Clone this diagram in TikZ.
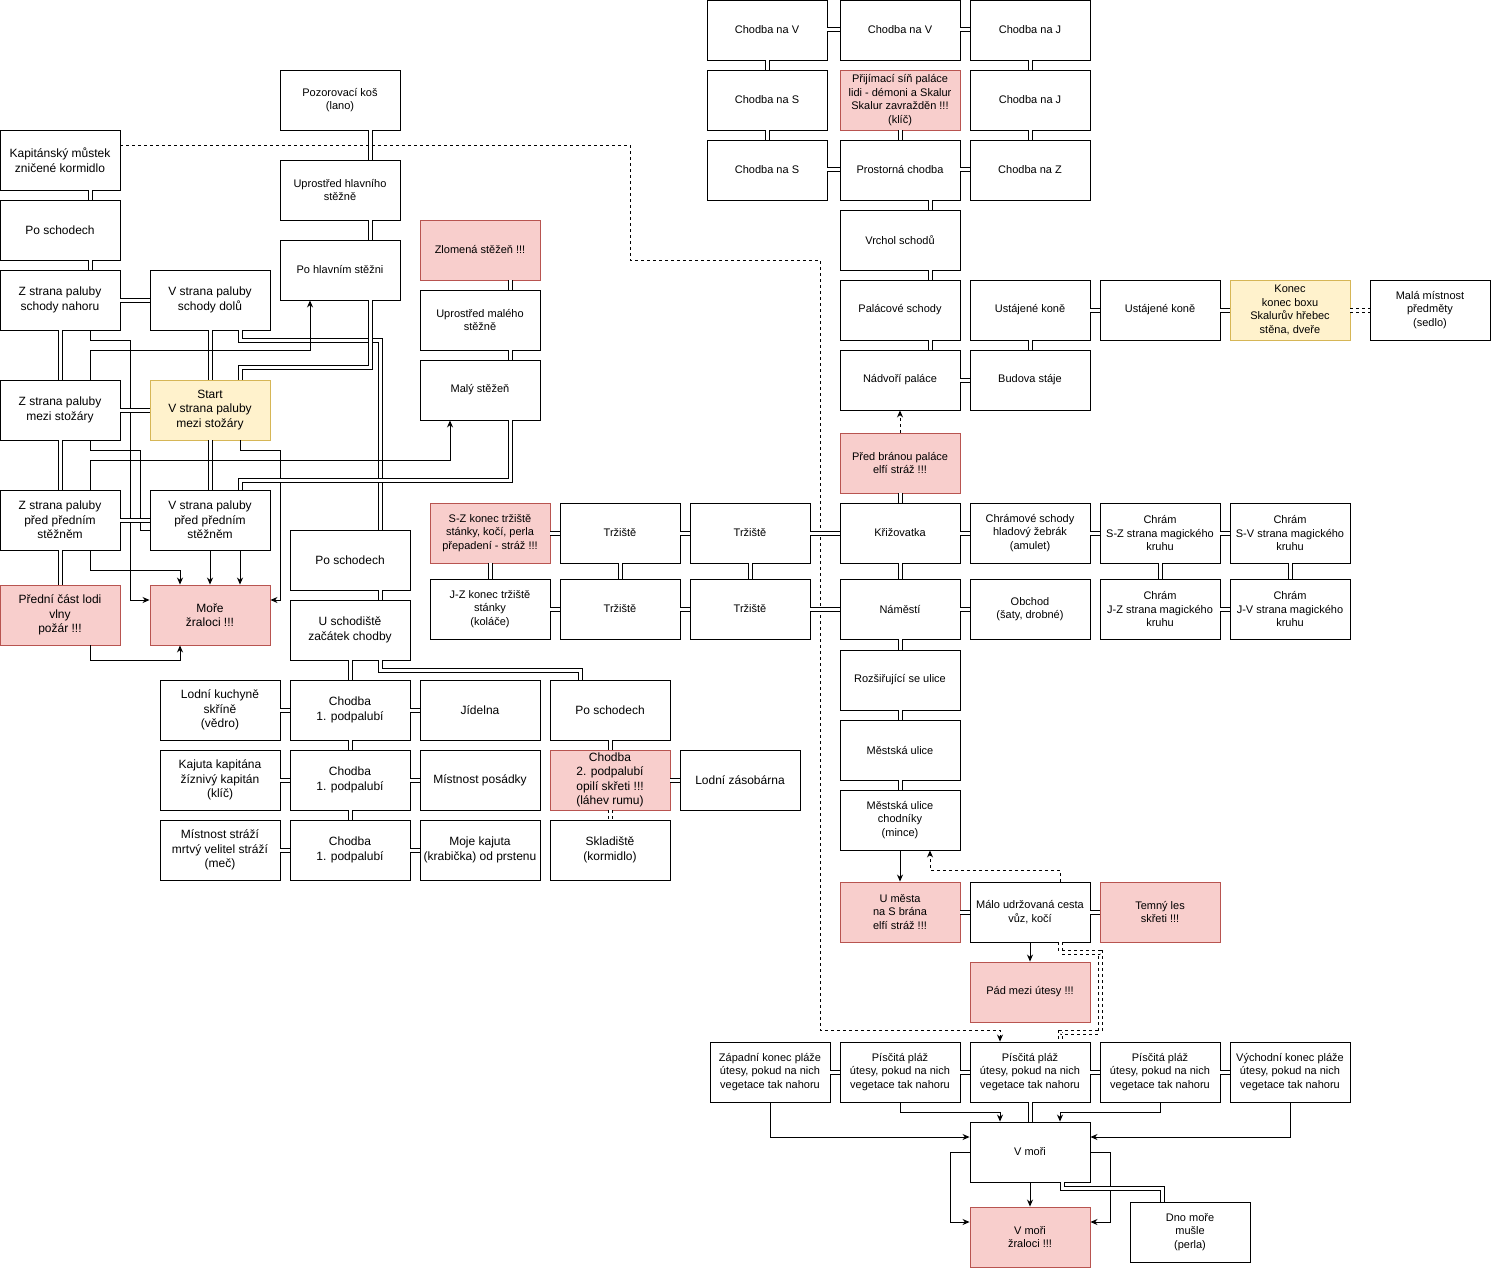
\documentclass[tikz,border=0pt]{standalone}
\usepackage{fontspec}
\setmainfont{Liberation Sans}
\usepackage{tikz}
\usetikzlibrary{arrows.meta}
\definecolor{redfill}{HTML}{F8CECC}
\definecolor{redline}{HTML}{B85450}
\definecolor{yellowfill}{HTML}{FFF2CC}
\definecolor{yellowline}{HTML}{D6B656}

\begin{document}
\begin{tikzpicture}[x=1pt,y=-1pt,
	>={Stealth[length=7pt,width=6pt]},
	room/.style={draw,line width=0.9pt,minimum width=120pt,minimum height=60pt,inner sep=1pt,align=center,font=\fontsize{11}{13.4}\selectfont},
	deckroom/.style={room,font=\fontsize{12}{14.5}\selectfont},
	danger/.style={fill=redfill,draw=redline},
	goal/.style={fill=yellowfill,draw=yellowline},
	link/.style={line width=1pt,double=white,double distance=3pt},
	dlink/.style={link,dash pattern=on 3pt off 3pt},
	arr/.style={->,line width=0.9pt},
	darr/.style={arr,dash pattern=on 3pt off 3pt}]
	\useasboundingbox (0,0) rectangle (1491,1268);
	% paluba
	\node[deckroom] (bridge) at (60,160) {Kapitánský můstek\\zničené kormidlo};
	\node[deckroom] (deckstairs) at (60,230) {Po schodech};
	\node[deckroom] (zup) at (60,300) {Z strana paluby\\schody nahoru};
	\node[deckroom] (vdown) at (210,300) {V strana paluby\\schody dolů};
	\node[deckroom] (zmid) at (60,410) {Z strana paluby\\mezi stožáry};
	\node[deckroom,goal] (start) at (210,410) {Start\\V strana paluby\\mezi stožáry};
	\node[deckroom] (zfore) at (60,520) {Z strana paluby\\před předním\\stěžněm};
	\node[deckroom] (vfore) at (210,520) {V strana paluby\\před předním\\stěžněm};
	\node[deckroom,danger] (bow) at (60,615) {Přední část lodi\\vlny\\požár !!!};
	\node[deckroom,danger] (sea) at (210,615) {Moře\\žraloci !!!};
	% stezne
	\node[room] (nest) at (340,100) {Pozorovací koš\\(lano)};
	\node[room] (mastmid) at (340,190) {Uprostřed hlavního\\stěžně};
	\node[room] (mast) at (340,270) {Po hlavním stěžni};
	\node[room,danger] (broken) at (480,250) {Zlomená stěžeň !!!};
	\node[room] (smastmid) at (480,320) {Uprostřed malého\\stěžně};
	\node[room] (smast) at (480,390) {Malý stěžeň};
	% podpalubi
	\node[deckroom] (hatch) at (350,560) {Po schodech};
	\node[deckroom] (hall) at (350,630) {U schodiště\\začátek chodby};
	\node[deckroom] (galley) at (220,710) {Lodní kuchyně\\skříně\\(vědro)};
	\node[deckroom] (corra) at (350,710) {Chodba\\1. podpalubí};
	\node[deckroom] (mess) at (480,710) {Jídelna};
	\node[deckroom] (lowstairs) at (610,710) {Po schodech};
	\node[deckroom] (captain) at (220,780) {Kajuta kapitána\\žíznivý kapitán\\(klíč)};
	\node[deckroom] (corrb) at (350,780) {Chodba\\1. podpalubí};
	\node[deckroom] (crew) at (480,780) {Místnost posádky};
	\node[deckroom,danger] (lowcorr) at (610,780) {Chodba\\2. podpalubí\\opilí skřeti !!!\\(láhev rumu)};
	\node[deckroom] (pantry) at (740,780) {Lodní zásobárna};
	\node[deckroom] (guards) at (220,850) {Místnost stráží\\mrtvý velitel stráží\\(meč)};
	\node[deckroom] (corrc) at (350,850) {Chodba\\1. podpalubí};
	\node[deckroom] (mycabin) at (480,850) {Moje kajuta\\(krabička) od prstenu};
	\node[deckroom] (hold) at (610,850) {Skladiště\\(kormidlo)};
	% trziste
	\node[room,danger] (mktnw) at (490,533) {S-Z konec tržiště\\stánky, kočí, perla\\přepadení - stráž !!!};
	\node[room] (mkta) at (620,533) {Tržiště};
	\node[room] (mktb) at (750,533) {Tržiště};
	\node[room] (mktsw) at (490,609) {J-Z konec tržiště\\stánky\\(koláče)};
	\node[room] (mktc) at (620,609) {Tržiště};
	\node[room] (mktd) at (750,609) {Tržiště};
	% palac
	\node[room] (eastA) at (767,30) {Chodba na V};
	\node[room] (eastB) at (900,30) {Chodba na V};
	\node[room] (southA) at (1030,30) {Chodba na J};
	\node[room] (northA) at (767,100) {Chodba na S};
	\node[room,danger] (throne) at (900,100) {Přijímací síň paláce\\lidi - démoni a Skalur\\Skalur zavražděn !!!\\(klíč)};
	\node[room] (southB) at (1030,100) {Chodba na J};
	\node[room] (northB) at (767,170) {Chodba na S};
	\node[room] (widecorr) at (900,170) {Prostorná chodba};
	\node[room] (westA) at (1030,170) {Chodba na Z};
	\node[room] (stairtop) at (900,240) {Vrchol schodů};
	\node[room] (pstairs) at (900,310) {Palácové schody};
	\node[room] (stallA) at (1030,310) {Ustájené koně};
	\node[room] (stallB) at (1160,310) {Ustájené koně};
	\node[room,goal] (stallend) at (1290,310) {Konec\\konec boxu\\Skalurův hřebec\\stěna, dveře};
	\node[room] (smallroom) at (1430,310) {Malá místnost\\předměty\\(sedlo)};
	\node[room] (court) at (900,380) {Nádvoří paláce};
	\node[room] (stable) at (1030,380) {Budova stáje};
	\node[room,danger] (gate) at (900,463) {Před bránou paláce\\elfí stráž !!!};
	% mesto
	\node[room] (cross) at (900,533) {Křižovatka};
	\node[room] (tsteps) at (1030,533) {Chrámové schody\\hladový žebrák\\(amulet)};
	\node[room] (tnw) at (1160,533) {Chrám\\S-Z strana magického\\kruhu};
	\node[room] (tne) at (1290,533) {Chrám\\S-V strana magického\\kruhu};
	\node[room] (square) at (900,609) {Náměstí};
	\node[room] (shop) at (1030,609) {Obchod\\(šaty, drobné)};
	\node[room] (tsw) at (1160,609) {Chrám\\J-Z strana magického\\kruhu};
	\node[room] (tse) at (1290,609) {Chrám\\J-V strana magického\\kruhu};
	\node[room] (widestreet) at (900,680) {Rozšiřující se ulice};
	\node[room] (street) at (900,750) {Městská ulice};
	\node[room] (walkway) at (900,820) {Městská ulice\\chodníky\\(mince)};
	\node[room,danger] (towngate) at (900,912) {U města\\na S brána\\elfí stráž !!!};
	\node[room] (road) at (1030,912) {Málo udržovaná cesta\\vůz, kočí};
	\node[room,danger] (forest) at (1160,912) {Temný les\\skřeti !!!};
	\node[room,danger] (cliff) at (1030,992) {Pád mezi útesy !!!};
	% plaz
	\node[room] (beachW) at (770,1072) {Západní konec pláže\\útesy, pokud na nich\\vegetace tak nahoru};
	\node[room] (beachA) at (900,1072) {Písčitá pláž\\útesy, pokud na nich\\vegetace tak nahoru};
	\node[room] (beachB) at (1030,1072) {Písčitá pláž\\útesy, pokud na nich\\vegetace tak nahoru};
	\node[room] (beachC) at (1160,1072) {Písčitá pláž\\útesy, pokud na nich\\vegetace tak nahoru};
	\node[room] (beachE) at (1290,1072) {Východní konec pláže\\útesy, pokud na nich\\vegetace tak nahoru};
	\node[room] (insea) at (1030,1152) {V moři};
	\node[room,danger] (sharks) at (1030,1237) {V moři\\žraloci !!!};
	\node[room] (seabed) at (1190,1232) {Dno moře\\mušle\\(perla)};
	%
	\draw[link] (bridge.south -| 90,0) -- (deckstairs.north -| 90,0);
	\draw[link] (deckstairs.south -| 90,0) -- (zup.north -| 90,0);
	\draw[link] (zup.east) -- (vdown.west);
	\draw[link] (zup.south) -- (zmid.north);
	\draw[arr] (zup.south -| 90,0) -- (90,340) -- (130,340) -- (130,600) -- (sea.west |- 0,600);
	\draw[link] (vdown.south) -- (start.north);
	\draw[link] (vdown.south -| 240,0) -- (240,340) -- (380,340) -- (hatch.north -| 380,0);
	\draw[arr] (zmid.north -| 90,0) -- (90,350) -- (310,350) -- (mast.south -| 310,0);
	\draw[link] (mast.south -| 370,0) -- (370,367) -- (240,367) -- (start.north -| 240,0);
	\draw[link] (zmid.east) -- (start.west);
	\draw[link] (zmid.south) -- (zfore.north);
	\draw (zmid.south -| 90,0) -- (90,450) -- (140,450) -- (140,530) -- (vfore.west |- 0,530);
	\draw[link] (start.south) -- (vfore.north);
	\draw[arr] (start.south -| 240,0) -- (240,450) -- (280,450) -- (280,600) -- (sea.east |- 0,600);
	\draw[arr] (zfore.north -| 90,0) -- (90,460) -- (450,460) -- (smast.south -| 450,0);
	\draw[link] (smast.south -| 510,0) -- (510,480) -- (240,480) -- (vfore.north -| 240,0);
	\draw[link] (zfore.east) -- (vfore.west);
	\draw[link] (zfore.south) -- (bow.north);
	\draw[arr] (zfore.south -| 90,0) -- (90,570) -- (180,570) -- (sea.north -| 180,0);
	\draw[arr] (vfore.south) -- (sea.north);
	\draw[arr] (vfore.south -| 240,0) -- (sea.north -| 240,0);
	\draw[arr] (bow.south -| 90,0) -- (90,660) -- (180,660) -- (sea.south -| 180,0);
	%
	\draw[link] (nest.south -| 370,0) -- (mastmid.north -| 370,0);
	\draw[link] (mastmid.south -| 370,0) -- (mast.north -| 370,0);
	\draw[link] (broken.south -| 510,0) -- (smastmid.north -| 510,0);
	\draw[link] (smastmid.south -| 510,0) -- (smast.north -| 510,0);
	\draw[darr] (bridge.east |- 0,145) -- (630,145) -- (630,260) -- (820,260) -- (820,1030) -- (1000,1030) -- (beachB.north -| 1000,0);
	%
	\draw[link] (hatch.south -| 380,0) -- (hall.north -| 380,0);
	\draw[link] (hall.south) -- (corra.north);
	\draw[link] (hall.south -| 380,0) -- (380,670) -- (580,670) -- (lowstairs.north -| 580,0);
	\draw[link] (corra.south) -- (corrb.north);
	\draw[link] (corrb.south) -- (corrc.north);
	\draw[link] (galley.east) -- (corra.west);
	\draw[link] (corra.east) -- (mess.west);
	\draw[link] (captain.east) -- (corrb.west);
	\draw[link] (corrb.east) -- (crew.west);
	\draw[link] (guards.east) -- (corrc.west);
	\draw[link] (corrc.east) -- (mycabin.west);
	\draw[link] (lowstairs.south) -- (lowcorr.north);
	\draw[link] (lowcorr.east) -- (pantry.west);
	\draw[dlink] (lowcorr.south) -- (hold.north);
	%
	\draw[link] (mktnw.east) -- (mkta.west);
	\draw[link] (mkta.east) -- (mktb.west);
	\draw[link] (mktb.east) -- (cross.west);
	\draw[link] (mktsw.east) -- (mktc.west);
	\draw[link] (mktc.east) -- (mktd.west);
	\draw[link] (mktd.east) -- (square.west);
	\draw[link] (mktnw.south) -- (mktsw.north);
	\draw[link] (mkta.south) -- (mktc.north);
	\draw[link] (mktb.south) -- (mktd.north);
	%
	\draw[link] (eastA.east) -- (eastB.west);
	\draw[link] (eastB.east) -- (southA.west);
	\draw[link] (eastA.south) -- (northA.north);
	\draw[link] (northA.south) -- (northB.north);
	\draw[link] (northB.east) -- (widecorr.west);
	\draw[link] (widecorr.east) -- (westA.west);
	\draw[link] (throne.south) -- (widecorr.north);
	\draw[link] (southA.south) -- (southB.north);
	\draw[link] (southB.south) -- (westA.north);
	\draw[link] (widecorr.south -| 930,0) -- (stairtop.north -| 930,0);
	\draw[link] (stairtop.south -| 930,0) -- (pstairs.north -| 930,0);
	\draw[link] (pstairs.south -| 930,0) -- (court.north -| 930,0);
	\draw[link] (stallA.east) -- (stallB.west);
	\draw[link] (stallB.east) -- (stallend.west);
	\draw[dlink] (stallend.east) -- (smallroom.west);
	\draw[link] (stallA.south) -- (stable.north);
	\draw[link] (court.east) -- (stable.west);
	\draw[darr] (gate.north) -- (court.south);
	\draw[link] (gate.south) -- (cross.north);
	%
	\draw[link] (cross.east) -- (tsteps.west);
	\draw[link] (tsteps.east) -- (tnw.west);
	\draw[link] (tnw.east) -- (tne.west);
	\draw[link] (tnw.south) -- (tsw.north);
	\draw[link] (tne.south) -- (tse.north);
	\draw[link] (square.east) -- (shop.west);
	\draw[link] (tsw.east) -- (tse.west);
	\draw[link] (cross.south) -- (square.north);
	\draw[link] (square.south) -- (widestreet.north);
	\draw[link] (widestreet.south) -- (street.north);
	\draw[link] (street.south) -- (walkway.north);
	\draw[arr] (walkway.south) -- (towngate.north);
	\draw[link] (towngate.east) -- (road.west);
	\draw[link] (road.east) -- (forest.west);
	\draw[arr] (road.south) -- (cliff.north);
	\draw[darr] (road.north -| 1060,0) -- (1060,870) -- (930,870) -- (walkway.south -| 930,0);
	\draw[dlink] (road.south -| 1060,0) -- (1060,952) -- (1100,952) -- (1100,1032) -- (1060,1032) -- (beachB.north -| 1060,0);
	%
	\draw[link] (beachW.east) -- (beachA.west);
	\draw[link] (beachA.east) -- (beachB.west);
	\draw[link] (beachB.east) -- (beachC.west);
	\draw[link] (beachC.east) -- (beachE.west);
	\draw[arr] (beachW.south) -- (770,1137) -- (insea.west |- 0,1137);
	\draw[arr] (beachA.south) -- (900,1112) -- (1000,1112) -- (insea.north -| 1000,0);
	\draw[link] (beachB.south) -- (insea.north);
	\draw[arr] (beachC.south) -- (1160,1112) -- (1060,1112) -- (insea.north -| 1060,0);
	\draw[arr] (beachE.south) -- (1290,1137) -- (insea.east |- 0,1137);
	\draw[arr] (insea.south) -- (sharks.north);
	\draw[arr] (insea.west) -- (950,1152) -- (950,1222) -- (sharks.west |- 0,1222);
	\draw[arr] (insea.east) -- (1110,1152) -- (1110,1222) -- (sharks.east |- 0,1222);
	\draw[link] (insea.south -| 1062,0) -- (1062,1188) -- (1162,1188) -- (seabed.north -| 1162,0);
\end{tikzpicture}
\end{document}
